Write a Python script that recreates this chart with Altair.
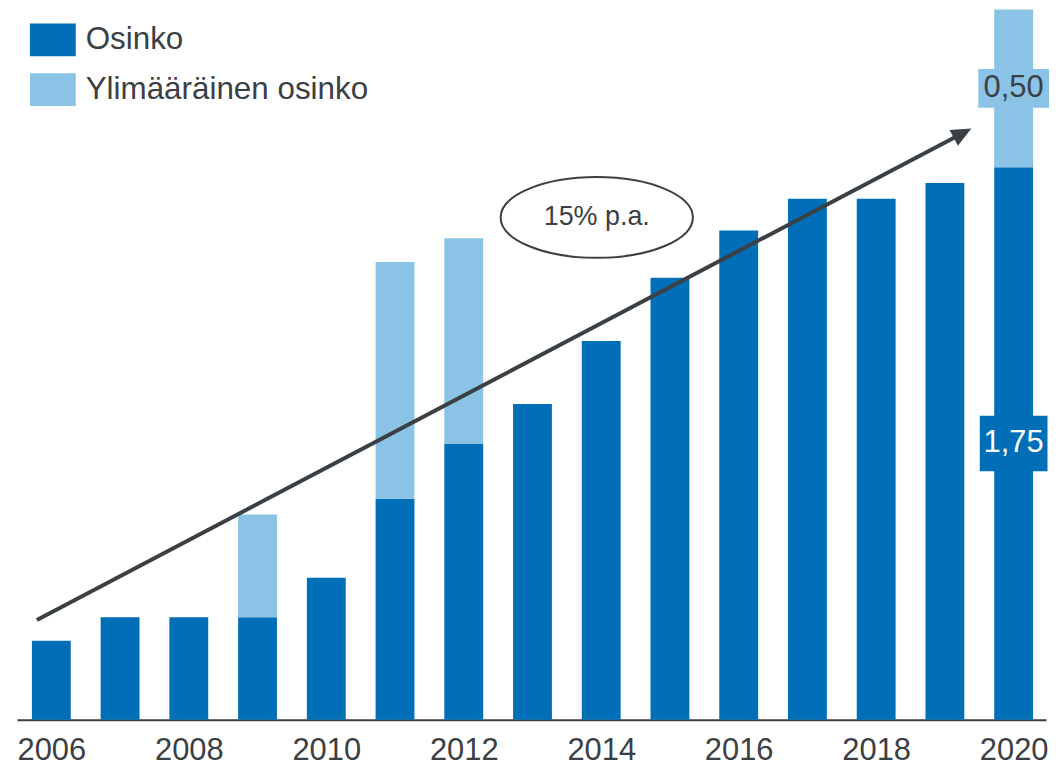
import altair as alt
import pandas as pd

# ---- data ----
years = list(range(2006, 2021))
osinko = [0.25, 0.325, 0.325, 0.325, 0.45, 0.70, 0.875, 1.00, 1.20, 1.40, 1.55, 1.65, 1.65, 1.70, 1.75]
ylimaarainen = [0, 0, 0, 0.325, 0, 0.75, 0.65, 0, 0, 0, 0, 0, 0, 0, 0.50]
series_names = ["Osinko", "Ylimääräinen osinko"]
tick_years = list(range(2006, 2021, 2))

label_years = [2020, 2020]
label_values = [1.75 + 0.50 / 2, 1.75 / 2]
label_texts = ["0,50", "1,75"]

trend_start = [2005.79, 0.316]
trend_end = [2019.257, 1.858]
trend_text = ["15% p.a."]
ellipse_pos = [2013.935, 1.591]

# ---- styling ----
FONT = "Liberation Sans"
DARK = "#006FB8"
LIGHT = "#8AC3E6"
TXT = "#3b4044"

rows = []
for i, y in enumerate(years):
    for k, (name, vals) in enumerate(zip(series_names, [osinko, ylimaarainen])):
        if vals[i] > 0:
            rows.append({"year": y, "series": name, "value": vals[i], "order": k})
bars_df = pd.DataFrame(rows)

xs = alt.Scale(domain=[2005.5, 2020.471], nice=False, zero=False, padding=0)
ys = alt.Scale(domain=[0, 2.25], nice=False, zero=True, padding=0)

bars = alt.Chart(bars_df).mark_bar(size=39).encode(
    x=alt.X("year:Q", scale=xs, title=None,
            axis=alt.Axis(values=tick_years, format="d", ticks=False, grid=False,
                          labelFontSize=31, labelFont=FONT, labelColor=TXT,
                          labelPadding=16, domainColor=TXT, domainWidth=2, title=None)),
    y=alt.Y("value:Q", scale=ys, axis=None, stack="zero"),
    color=alt.Color("series:N", scale=alt.Scale(domain=series_names, range=[DARK, LIGHT]),
                    legend=alt.Legend(orient="none", legendX=13, legendY=7.5, title=None,
                                      symbolType="M-1,-0.717H1V0.717H-1Z", symbolSize=2116,
                                      symbolStrokeWidth=0, labelFontSize=31.5, labelFont=FONT,
                                      labelColor=TXT, labelOffset=10, rowPadding=10,
                                      labelLimit=600, padding=0)),
    order=alt.Order("order:Q"),
)

trend_df = pd.DataFrame({"x": [trend_start[0]], "y": [trend_start[1]],
                         "x2": [trend_end[0]], "y2": [trend_end[1]]})
trend = alt.Chart(trend_df).mark_rule(strokeWidth=4, color=TXT).encode(
    x=alt.X("x:Q", scale=xs, title=None), y=alt.Y("y:Q", scale=ys, title=None),
    x2="x2:Q", y2="y2:Q")

head_df = pd.DataFrame({"x": [trend_end[0]], "y": [trend_end[1]]})
head = alt.Chart(head_df).mark_point(shape="M1,0L-1,-0.9L-1,0.9Z", size=400, angle=332.3,
                                     filled=True, color=TXT, opacity=1).encode(
    x=alt.X("x:Q", scale=xs, title=None), y=alt.Y("y:Q", scale=ys, title=None))

ell_df = pd.DataFrame({"x": [ellipse_pos[0]], "y": [ellipse_pos[1]], "t": trend_text})
ellipse = alt.Chart(ell_df).mark_point(
    shape="M-1,0A1,0.42 0 1,1 1,0A1,0.42 0 1,1 -1,0Z", size=37249,
    filled=False, color=TXT, strokeWidth=2, opacity=1).encode(
    x=alt.X("x:Q", scale=xs, title=None), y=alt.Y("y:Q", scale=ys, title=None))
ell_text = alt.Chart(ell_df).mark_text(fontSize=27, font=FONT, color=TXT).encode(
    x=alt.X("x:Q", scale=xs, title=None), y=alt.Y("y:Q", scale=ys, title=None), text="t:N")

lab_df = pd.DataFrame({"year": label_years, "value": label_values, "t": label_texts})
box_top = alt.Chart(lab_df.iloc[[0]]).mark_point(
    shape="M-1,-0.55H1V0.55H-1Z", size=5041, filled=True, color=LIGHT, opacity=1).encode(
    x=alt.X("year:Q", scale=xs, title=None), y=alt.Y("value:Q", scale=ys, title=None))
box_bot = alt.Chart(lab_df.iloc[[1]]).mark_point(
    shape="M-1,-0.82H1V0.82H-1Z", size=4624, filled=True, color=DARK, opacity=1).encode(
    x=alt.X("year:Q", scale=xs, title=None), y=alt.Y("value:Q", scale=ys, title=None))
txt_top = alt.Chart(lab_df.iloc[[0]]).mark_text(fontSize=31, font=FONT, color=TXT).encode(
    x=alt.X("year:Q", scale=xs, title=None), y=alt.Y("value:Q", scale=ys, title=None), text="t:N")
txt_bot = alt.Chart(lab_df.iloc[[1]]).mark_text(fontSize=31, font=FONT, color="white").encode(
    x=alt.X("year:Q", scale=xs, title=None), y=alt.Y("value:Q", scale=ys, title=None), text="t:N")

chart = alt.layer(bars, trend, head, ellipse, ell_text, box_top, box_bot, txt_top, txt_bot).properties(
    width=1033, height=713,
    padding={"left": 9, "top": 0, "right": 0, "bottom": 0},
).configure_view(stroke=None)

chart.save("out.html", embed_options={"renderer": "svg", "actions": False})
